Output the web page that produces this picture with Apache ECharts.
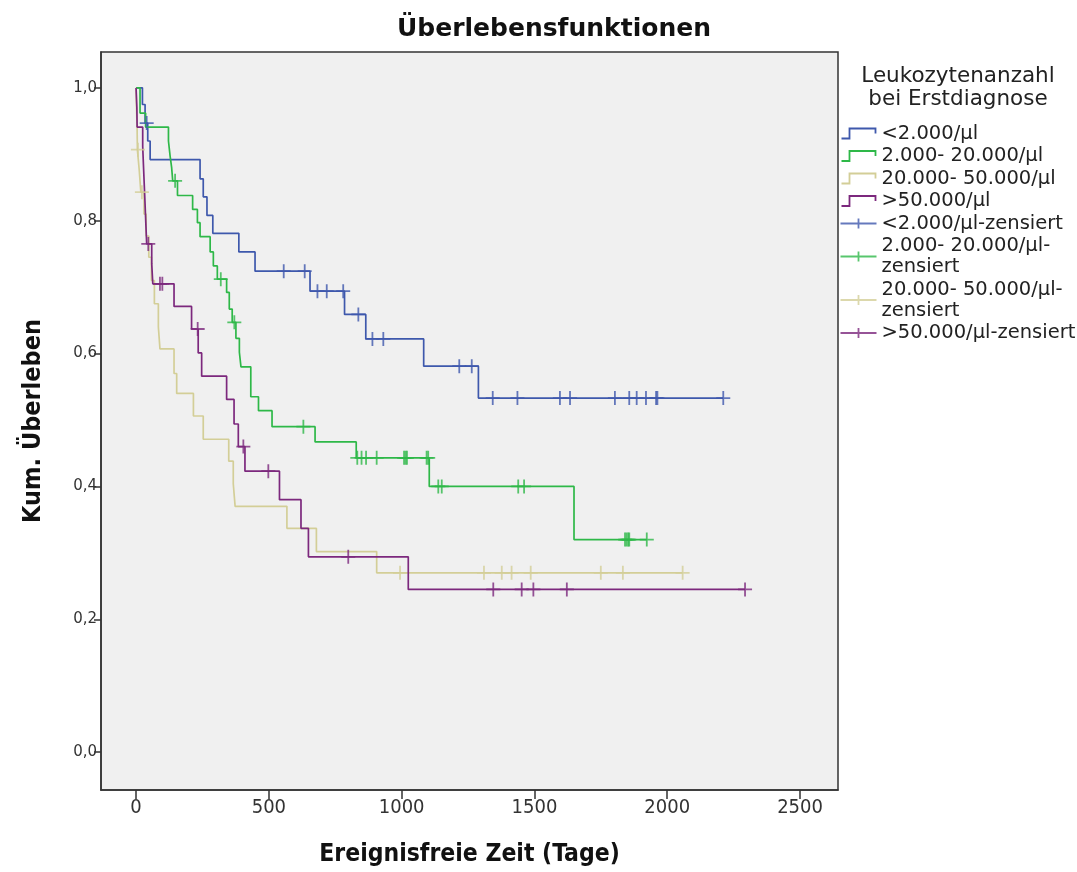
<!DOCTYPE html>
<html><head><meta charset="utf-8">
<script src="https://cdn.jsdelivr.net/npm/echarts@6/dist/echarts.min.js"></script>
<style>html,body{margin:0;padding:0;background:#fff}#c{width:1077px;height:872px}</style>
</head><body><div id="c"></div>
<script>
// ---- data ----
const xTicks = [0, 500, 1000, 1500, 2000, 2500];
const yTicks = [0, 0.2, 0.4, 0.6, 0.8, 1.0];

const groupNames = ['<2.000/µl', '2.000- 20.000/µl', '20.000- 50.000/µl', '>50.000/µl'];
const censorNames = ['<2.000/µl-zensiert', '2.000- 20.000/µl-zensiert', '20.000- 50.000/µl-zensiert', '>50.000/µl-zensiert'];

const blueTimes = [0, 24, 34, 44, 53, 241, 253, 267, 289, 387, 448, 655, 785, 865, 1083, 1289, 2211];
const blueSurv  = [1.0, 0.975, 0.947, 0.92, 0.892, 0.863, 0.836, 0.808, 0.781, 0.753, 0.724, 0.694, 0.659, 0.622, 0.581, 0.533, 0.533];
const blueCensor = [40, 556, 635, 683, 718, 780, 837, 890, 931, 1217, 1264, 1343, 1436, 1596, 1634, 1803, 1857, 1885, 1920, 1958, 1963, 2211];

const greenTimes = [0, 15, 36, 122, 128, 134, 138, 156, 213, 231, 241, 279, 291, 306, 341, 351, 362, 376, 389, 395, 432, 461, 512, 674, 829, 1104, 1649, 1923];
const greenSurv  = [1.0, 0.962, 0.941, 0.92, 0.898, 0.88, 0.86, 0.838, 0.817, 0.797, 0.776, 0.753, 0.732, 0.712, 0.692, 0.667, 0.647, 0.623, 0.602, 0.58, 0.535, 0.514, 0.49, 0.467, 0.443, 0.40, 0.32, 0.32];
const greenCensor = [147, 319, 370, 630, 833, 849, 866, 906, 1009, 1015, 1020, 1094, 1100, 1138, 1151, 1439, 1461, 1841, 1847, 1853, 1857, 1923];

const yellowTimes = [0, 2, 4, 5, 12, 18, 30, 38, 48, 58, 69, 84, 90, 143, 153, 216, 253, 349, 366, 373, 568, 679, 906, 2058];
const yellowSurv  = [1.0, 0.967, 0.937, 0.907, 0.876, 0.843, 0.81, 0.777, 0.745, 0.71, 0.675, 0.64, 0.607, 0.57, 0.54, 0.506, 0.471, 0.438, 0.404, 0.37, 0.337, 0.302, 0.27, 0.27];
const yellowCensor = [7, 22, 994, 1310, 1377, 1414, 1486, 1750, 1833, 2058];

const purpleTimes = [0, 3, 4, 25, 28, 31, 34, 37, 40, 59, 63, 143, 209, 234, 247, 341, 369, 385, 410, 540, 621, 649, 1025, 2293];
const purpleSurv  = [1.0, 0.97, 0.941, 0.912, 0.882, 0.853, 0.824, 0.794, 0.765, 0.735, 0.705, 0.671, 0.637, 0.601, 0.566, 0.531, 0.494, 0.46, 0.423, 0.38, 0.337, 0.294, 0.245, 0.245];
const purpleCensor = [46, 90, 99, 232, 404, 498, 799, 1345, 1452, 1496, 1622, 2293];

const colors = ['#3e58ac', '#2eb848', '#d3ce97', '#7c287d'];

// ---- build chart ----
function levelAt(times, surv, t) {
  let v = surv[0];
  for (let i = 0; i < times.length; i++) if (times[i] <= t) v = surv[i];
  return v;
}
const groups = [
  [blueTimes, blueSurv, blueCensor],
  [greenTimes, greenSurv, greenCensor],
  [yellowTimes, yellowSurv, yellowCensor],
  [purpleTimes, purpleSurv, purpleCensor]
];
const stepIcon = 'path://M0,10 L8,10 L8,0 L34,0 L34,5';
const plusIcon = 'path://M0,5 L36,5 M18,0 L18,10';
const censorSymbol = 'path://M7,0 L7,14 M0,7 L14,7';

const series = [];
groups.forEach((g, i) => {
  series.push({
    type: 'line', name: groupNames[i], step: 'end', symbol: 'none', silent: true,
    data: g[0].map((t, k) => [t, g[1][k]]),
    lineStyle: { color: colors[i], width: 1.7 }, itemStyle: { color: colors[i] }, z: 2
  });
});
groups.forEach((g, i) => {
  series.push({
    type: 'scatter', name: censorNames[i], symbol: censorSymbol, symbolSize: [14, 14], silent: true,
    data: g[2].map(t => [t, levelAt(g[0], g[1], t)]),
    itemStyle: { color: 'none', borderColor: colors[i], borderWidth: 1.8 }, z: 3
  });
});
const legendData = [];
groupNames.forEach((n, i) => legendData.push({ name: n, icon: stepIcon, itemStyle: { color: 'none', borderColor: colors[i], borderWidth: 1.8 } }));
censorNames.forEach((n, i) => legendData.push({ name: n, icon: plusIcon, itemStyle: { color: 'none', borderColor: colors[i], borderWidth: 1.8 } }));

const chart = echarts.init(document.getElementById('c'), null, { renderer: 'canvas' });
chart.setOption({
  animation: false,
  backgroundColor: '#ffffff',
  graphic: [
    { type: 'text', x: 554, y: 29, style: { text: 'Überlebensfunktionen', align: 'center', verticalAlign: 'middle',
      font: 'bold 25px "DejaVu Sans", sans-serif', fill: '#111' } },
    { type: 'text', x: 958, y: 88, style: { text: 'Leukozytenanzahl\nbei Erstdiagnose', align: 'center', verticalAlign: 'middle',
      font: '21.5px "DejaVu Sans", sans-serif', lineHeight: 23, fill: '#222' } }
  ],
  grid: { left: 101, right: 239, top: 52, bottom: 79, show: true, backgroundColor: '#f0f0f0', borderColor: '#333', borderWidth: 1.5 },
  legend: {
    orient: 'vertical', left: 838, top: 123, padding: 0, itemWidth: 36, itemHeight: 10, itemGap: 1.5, selectedMode: false,
    textStyle: { fontFamily: 'DejaVu Sans', fontSize: 19.5, color: '#222', lineHeight: 21 },
    formatter: n => n.indexOf('- ') > 0 && n.indexOf('zensiert') > 0 ? n.replace('-zensiert', '-\nzensiert') : n,
    data: legendData
  },
  xAxis: {
    type: 'value', min: -132, max: 2643,
    axisLine: { show: true, onZero: false, lineStyle: { color: '#333', width: 1.5 } },
    axisTick: { show: true, length: 9, customValues: xTicks, lineStyle: { color: '#333', width: 1.5 } },
    axisLabel: { customValues: xTicks, color: '#333', fontSize: 20, margin: 8,
      fontFamily: '"DejaVu Sans Condensed", "Liberation Sans Narrow", sans-serif', formatter: v => String(v) },
    splitLine: { show: false },
    name: 'Ereignisfreie Zeit (Tage)', nameLocation: 'middle', nameGap: 52,
    nameTextStyle: { fontFamily: '"DejaVu Sans Condensed", "Liberation Sans Narrow", sans-serif', fontWeight: 'bold', fontSize: 24.5, color: '#111' }
  },
  yAxis: {
    type: 'value', min: -0.057, max: 1.054,
    axisLine: { show: true, onZero: false, lineStyle: { color: '#333', width: 1.5 } },
    axisTick: { show: true, length: 7, customValues: yTicks, lineStyle: { color: '#333', width: 1.5 } },
    axisLabel: { customValues: yTicks, color: '#333', fontSize: 15, margin: 4, fontFamily: '"DejaVu Sans", sans-serif',
      formatter: v => v.toFixed(1).replace('.', ',') },
    splitLine: { show: false },
    name: 'Kum. Überleben', nameLocation: 'middle', nameGap: 55,
    nameTextStyle: { fontFamily: '"DejaVu Sans Condensed", "Liberation Sans Narrow", sans-serif', fontWeight: 'bold', fontSize: 25, color: '#111' }
  },
  series: series
});
</script></body></html>
